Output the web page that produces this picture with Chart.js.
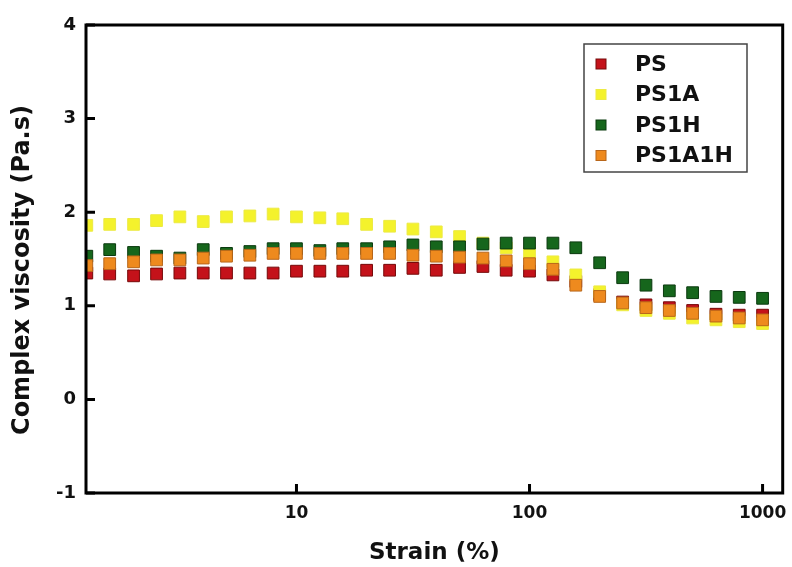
<!DOCTYPE html>
<html>
<head>
<meta charset="utf-8">
<script src="https://cdn.jsdelivr.net/npm/chart.js@4/dist/chart.umd.min.js"></script>
<style>
  html, body { margin: 0; padding: 0; background: #ffffff; }
  #wrap { width: 792px; height: 567px; }
</style>
</head>
<body>
<div id="wrap"><canvas id="c" width="792" height="567"></canvas></div>
<script>
// Strain sweep (%) - ten points per decade
const strain = [1.26, 1.58, 2.0, 2.51, 3.16, 3.98, 5.01, 6.31, 7.94, 10,
                12.6, 15.8, 20, 25.1, 31.6, 39.8, 50.1, 63.1, 79.4, 100,
                126, 158, 200, 251, 316, 398, 501, 631, 794, 1000];

// Complex viscosity (Pa.s)
const viscPS = [1.35, 1.34, 1.32, 1.34, 1.35, 1.35, 1.35, 1.35, 1.35, 1.37,
                1.37, 1.37, 1.38, 1.38, 1.40, 1.38, 1.41, 1.42, 1.38, 1.37,
                1.33, 1.26, 1.12, 1.04, 1.01, 0.98, 0.95, 0.91, 0.90, 0.90];
const viscPS1A = [1.86, 1.87, 1.87, 1.91, 1.95, 1.90, 1.95, 1.96, 1.98, 1.95,
                  1.94, 1.93, 1.87, 1.85, 1.82, 1.79, 1.74, 1.67, 1.62, 1.56,
                  1.47, 1.33, 1.15, 1.01, 0.95, 0.92, 0.87, 0.85, 0.83, 0.81];
const viscPS1H = [1.53, 1.60, 1.57, 1.53, 1.51, 1.60, 1.56, 1.58, 1.61, 1.61,
                  1.59, 1.61, 1.61, 1.63, 1.65, 1.63, 1.63, 1.66, 1.67, 1.67,
                  1.67, 1.62, 1.46, 1.30, 1.22, 1.16, 1.14, 1.10, 1.09, 1.08];
const viscPS1A1H = [1.43, 1.45, 1.47, 1.49, 1.49, 1.51, 1.53, 1.54, 1.56, 1.56,
                    1.56, 1.56, 1.56, 1.56, 1.54, 1.53, 1.52, 1.51, 1.48, 1.45,
                    1.39, 1.22, 1.10, 1.03, 0.98, 0.95, 0.92, 0.89, 0.87, 0.85];

const seriesNames = ['PS', 'PS1A', 'PS1H', 'PS1A1H'];
const xTickValues = [10, 100, 1000];
const yTickValues = [-1, 0, 1, 2, 3, 4];
const yTitle = 'Complex viscosity (Pa.s)';

const fills = ['#c4121a', '#f4f22c', '#16661c', '#ee8a1e'];
const edges = ['#760a0a', '#ecea44', '#0b3a0f', '#b8661a'];

const FONT = '"DejaVu Sans", "Liberation Sans", Arial, sans-serif';

function pts(vals) { return strain.map((s, i) => ({ x: s, y: vals[i] })); }

const allVals = [viscPS, viscPS1A, viscPS1H, viscPS1A1H];
const datasets = allVals.map((v, i) => ({
  label: seriesNames[i],
  data: pts(v),
  pointStyle: 'rect',
  pointRadius: 8.3,
  pointHoverRadius: 8.3,
  borderWidth: 1,
  backgroundColor: fills[i],
  borderColor: edges[i],
  showLine: false,
  order: 3 - i
}));

// Black frame, inward tick marks, y-axis title and the boxed legend
const framePlugin = {
  id: 'frame',
  afterDatasetsDraw(chart) {
    const { ctx, chartArea: a, scales } = chart;
    ctx.save();
    ctx.strokeStyle = '#000';
    ctx.lineWidth = 3;
    ctx.strokeRect(a.left, a.top, a.right - a.left, a.bottom - a.top);
    ctx.beginPath();
    yTickValues.forEach(v => {
      const y = scales.y.getPixelForValue(v);
      ctx.moveTo(a.left, y);
      ctx.lineTo(a.left + 9, y);
    });
    xTickValues.forEach(v => {
      const x = scales.x.getPixelForValue(v);
      ctx.moveTo(x, a.bottom);
      ctx.lineTo(x, a.bottom - 9);
    });
    ctx.stroke();

    // y-axis title
    ctx.save();
    ctx.translate(23, (a.top + a.bottom) / 2 + 11);
    ctx.rotate(-Math.PI / 2);
    ctx.font = 'bold 24px ' + FONT;
    ctx.fillStyle = '#111';
    ctx.textAlign = 'center';
    ctx.textBaseline = 'middle';
    ctx.fillText(yTitle, 0, 0);
    ctx.restore();

    // legend
    const lx = 584, ly = 44, lw = 163, lh = 128;
    ctx.fillStyle = '#fff';
    ctx.fillRect(lx, ly, lw, lh);
    ctx.strokeStyle = '#444';
    ctx.lineWidth = 1.5;
    ctx.strokeRect(lx, ly, lw, lh);
    ctx.font = 'bold 22px ' + FONT;
    ctx.textBaseline = 'middle';
    ctx.textAlign = 'left';
    seriesNames.forEach((name, i) => {
      const cy = ly + 20 + i * 30.5;
      ctx.fillStyle = fills[i];
      ctx.fillRect(lx + 12, cy - 5, 10, 10);
      ctx.strokeStyle = edges[i];
      ctx.lineWidth = 1;
      ctx.strokeRect(lx + 12, cy - 5, 10, 10);
      ctx.fillStyle = '#111';
      ctx.fillText(name, lx + 51, cy + 1);
    });
    ctx.restore();
  }
};

new Chart(document.getElementById('c'), {
  type: 'scatter',
  data: { datasets },
  plugins: [framePlugin],
  options: {
    responsive: false,
    animation: false,
    events: [],
    layout: { padding: { top: 25, right: 8, left: 0, bottom: 0 } },
    plugins: { legend: { display: false }, tooltip: { enabled: false } },
    scales: {
      x: {
        type: 'logarithmic',
        min: 1.25,
        max: 1220,
        grid: { display: false, drawTicks: false },
        border: { display: false },
        afterBuildTicks(scale) { scale.ticks = xTickValues.map(v => ({ value: v })); },
        afterFit(scale) {
          scale.height = 74;
          scale.paddingLeft = 0;
          scale.paddingRight = 0;
        },
        ticks: {
          color: '#111',
          padding: 10,
          maxRotation: 0,
          font: { family: FONT, size: 17, weight: 'bold' },
          callback: v => String(v)
        },
        title: {
          display: true,
          text: 'Strain (%)',
          color: '#111',
          padding: { top: 0, bottom: 0 },
          font: { family: FONT, size: 23, weight: 'bold' }
        }
      },
      y: {
        min: -1,
        max: 4,
        grid: { display: false, drawTicks: false },
        border: { display: false },
        afterBuildTicks(scale) { scale.ticks = yTickValues.map(v => ({ value: v })); },
        afterFit(scale) {
          scale.width = 86;
          scale.paddingTop = 0;
          scale.paddingBottom = 0;
        },
        ticks: {
          color: '#111',
          padding: 10,
          font: { family: FONT, size: 18, weight: 'bold' },
          callback: v => String(v)
        },
        title: { display: false }
      }
    }
  }
});
</script>
</body>
</html>
